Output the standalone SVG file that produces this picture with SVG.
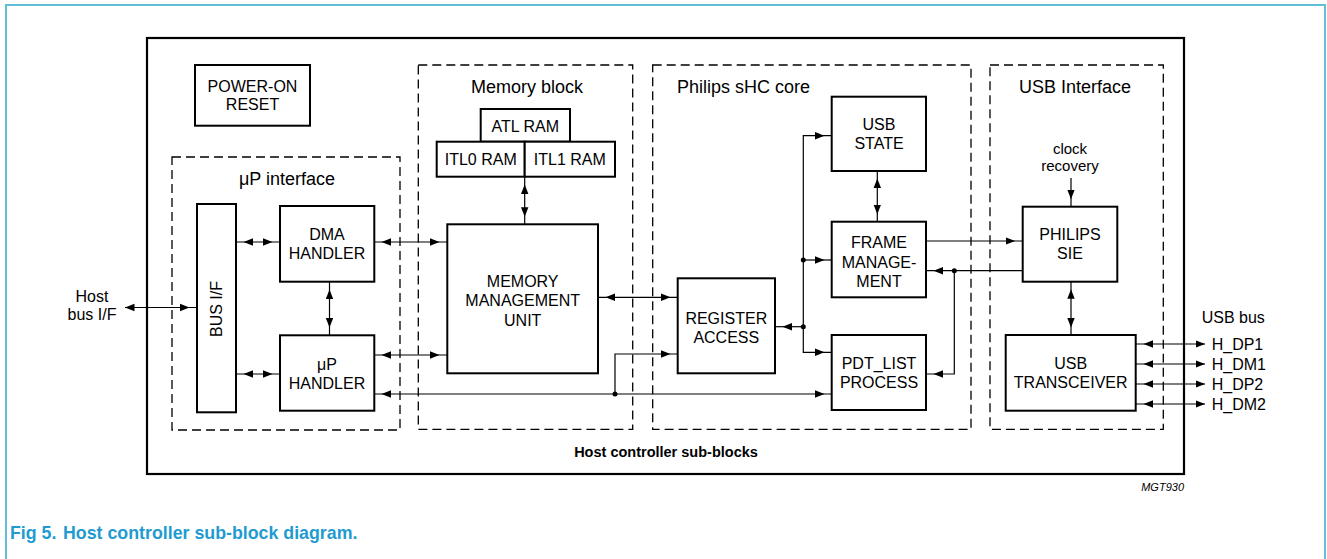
<svg xmlns="http://www.w3.org/2000/svg" width="1327" height="559" viewBox="0 0 1327 559">
<style>
.box{fill:#fff;stroke:#000;stroke-width:2}
.grp{fill:none;stroke:#000;stroke-width:1.3;stroke-dasharray:9 5}
.ln{fill:none;stroke:#000;stroke-width:1.2}
.t{font-family:"Liberation Sans",Arial,sans-serif;font-size:16px;fill:#000;text-anchor:middle}
.h{font-family:"Liberation Sans",Arial,sans-serif;font-size:18px;fill:#000}
.dot{fill:#000}
.cap{font-family:"Liberation Sans",Arial,sans-serif;font-size:17.8px;font-weight:bold;fill:#1f9bd0}
</style>
<defs>
<marker id="a" markerUnits="userSpaceOnUse" markerWidth="20" markerHeight="10" viewBox="0 0 20 10" refX="17" refY="5" orient="auto-start-reverse"><path d="M0,1.3 L9.5,5 L0,8.7 z" fill="#000"/></marker>
<marker id="e" markerUnits="userSpaceOnUse" markerWidth="20" markerHeight="10" viewBox="0 0 20 10" refX="9.5" refY="5" orient="auto-start-reverse"><path d="M0,1.3 L9.5,5 L0,8.7 z" fill="#000"/></marker>
</defs>
<rect width="1327" height="559" fill="#fff"/>
<path d="M6,559 V5 H1325 V559" fill="none" stroke="#62bfd8" stroke-width="2"/>
<rect x="147" y="38" width="1037" height="436" fill="none" stroke="#000" stroke-width="2.2"/>

<g id="grp-up"><rect class="grp" x="172" y="157" width="228" height="273"/><text class="h" x="287" y="185" text-anchor="middle">μP interface</text></g>
<g id="grp-mem"><rect class="grp" x="418.3" y="65" width="214.4" height="364.3"/><text class="h" x="527" y="93" text-anchor="middle">Memory block</text></g>
<g id="grp-core"><rect class="grp" x="652.7" y="65" width="318.3" height="364.3"/><text class="h" x="677" y="93">Philips sHC core</text></g>
<g id="grp-usb"><rect class="grp" x="990" y="65" width="173.3" height="364.3"/><text class="h" x="1075" y="93" text-anchor="middle">USB Interface</text></g>

<g id="connectors">
<line class="ln" x1="125" y1="307.5" x2="197" y2="307.5" marker-start="url(#e)" marker-end="url(#a)"/>
<line class="ln" x1="236" y1="242" x2="280" y2="242" marker-start="url(#a)" marker-end="url(#a)"/>
<line class="ln" x1="236" y1="374" x2="280" y2="374" marker-start="url(#a)" marker-end="url(#a)"/>
<line class="ln" x1="329.5" y1="282" x2="329.5" y2="335" marker-start="url(#a)" marker-end="url(#a)"/>
<line class="ln" x1="374" y1="242" x2="447" y2="242" marker-start="url(#a)" marker-end="url(#a)"/>
<line class="ln" x1="374" y1="355" x2="447" y2="355" marker-start="url(#a)" marker-end="url(#a)"/>
<line class="ln" x1="374" y1="394" x2="832" y2="394" marker-start="url(#a)" marker-end="url(#a)"/>
<path class="ln" d="M615,394 V354 H678" marker-end="url(#a)"/>
<line class="ln" x1="524.7" y1="177" x2="524.7" y2="224.3" marker-start="url(#a)" marker-end="url(#a)"/>
<line class="ln" x1="598" y1="297.3" x2="678" y2="297.3" marker-start="url(#a)" marker-end="url(#a)"/>
<path class="ln" d="M832,135.7 H803.3 V352.3 H832" marker-start="url(#a)" marker-end="url(#a)"/>
<path class="ln" d="M803.3,260 H832" marker-end="url(#a)"/>
<path class="ln" d="M803.3,326.7 H775" marker-end="url(#a)"/>
<line class="ln" x1="877.3" y1="171" x2="877.3" y2="221.7" marker-start="url(#a)" marker-end="url(#a)"/>
<path class="ln" d="M926,241 H1022.7" marker-end="url(#a)"/>
<path class="ln" d="M1022.7,270.7 H926" marker-end="url(#a)"/>
<path class="ln" d="M954.3,270.7 V374 H926" marker-end="url(#a)"/>
<path class="ln" d="M1071,178 V206.7" marker-end="url(#a)"/>
<line class="ln" x1="1071" y1="281.7" x2="1071" y2="335" marker-start="url(#a)" marker-end="url(#a)"/>
<line class="ln" x1="1136" y1="344" x2="1205" y2="344" marker-start="url(#a)" marker-end="url(#e)"/>
<line class="ln" x1="1136" y1="364" x2="1205" y2="364" marker-start="url(#a)" marker-end="url(#e)"/>
<line class="ln" x1="1136" y1="384" x2="1205" y2="384" marker-start="url(#a)" marker-end="url(#e)"/>
<line class="ln" x1="1136" y1="404" x2="1205" y2="404" marker-start="url(#a)" marker-end="url(#e)"/>
<circle class="dot" cx="615" cy="394" r="2.5"/>
<circle class="dot" cx="803.3" cy="260" r="2.5"/>
<circle class="dot" cx="803.3" cy="326.7" r="2.5"/>
<circle class="dot" cx="954.3" cy="270.7" r="2.5"/>
</g>

<g id="por"><rect class="box" x="195" y="65" width="115" height="60.7"/><text class="t" x="252.5" y="92">POWER-ON</text><text class="t" x="252.5" y="110">RESET</text></g>
<g id="busif"><rect class="box" x="197" y="204" width="39" height="208.3"/><text class="t" transform="translate(222,309) rotate(-90)">BUS I/F</text></g>
<g id="dma"><rect class="box" x="280" y="206" width="94.3" height="75.7"/><text class="t" x="327" y="240">DMA</text><text class="t" x="327" y="259">HANDLER</text></g>
<g id="uph"><rect class="box" x="280" y="335.3" width="94.3" height="75.4"/><text class="t" x="327" y="370">μP</text><text class="t" x="327" y="388.5">HANDLER</text></g>
<g id="atl"><rect class="box" x="480.7" y="109" width="89.3" height="32.7"/><text class="t" x="525.3" y="131.5">ATL RAM</text></g>
<g id="itl0"><rect class="box" x="436.7" y="141.7" width="88" height="35"/><text class="t" x="480.7" y="165">ITL0 RAM</text></g>
<g id="itl1"><rect class="box" x="524.7" y="141.7" width="90.3" height="35"/><text class="t" x="569.8" y="165">ITL1 RAM</text></g>
<g id="mmu"><rect class="box" x="447.3" y="224.3" width="150.7" height="149"/><text class="t" x="522.7" y="286.5">MEMORY</text><text class="t" x="522.7" y="306">MANAGEMENT</text><text class="t" x="522.7" y="325.5">UNIT</text></g>
<g id="reg"><rect class="box" x="677.7" y="278.3" width="97.3" height="95"/><text class="t" x="726.3" y="324">REGISTER</text><text class="t" x="726.3" y="342.5">ACCESS</text></g>
<g id="usbstate"><rect class="box" x="831.7" y="96.7" width="94.3" height="74.3"/><text class="t" x="879" y="130">USB</text><text class="t" x="879" y="149">STATE</text></g>
<g id="frame"><rect class="box" x="831.7" y="221.7" width="94.3" height="75.6"/><text class="t" x="879" y="247.5">FRAME</text><text class="t" x="879" y="267.5">MANAGE-</text><text class="t" x="879" y="286.5">MENT</text></g>
<g id="pdt"><rect class="box" x="831.7" y="335" width="94.3" height="75"/><text class="t" x="879" y="369">PDT_LIST</text><text class="t" x="879" y="387.5">PROCESS</text></g>
<g id="sie"><rect class="box" x="1022.7" y="206.7" width="94.6" height="75"/><text class="t" x="1070" y="240">PHILIPS</text><text class="t" x="1070" y="259">SIE</text></g>
<g id="trx"><rect class="box" x="1005.7" y="335" width="130" height="75.7"/><text class="t" x="1070.7" y="369">USB</text><text class="t" x="1070.7" y="388">TRANSCEIVER</text></g>

<g id="labels">
<text class="t" x="92" y="302">Host</text><text class="t" x="92" y="320">bus I/F</text>
<text class="t" x="1070" y="154" style="font-size:15px">clock</text><text class="t" x="1070" y="170.5" style="font-size:15px">recovery</text>
<text class="t" x="1201.7" y="323.3" style="text-anchor:start">USB bus</text>
<text class="t" x="1211.7" y="349.5" style="text-anchor:start">H_DP1</text>
<text class="t" x="1211.7" y="369.5" style="text-anchor:start">H_DM1</text>
<text class="t" x="1211.7" y="389.5" style="text-anchor:start">H_DP2</text>
<text class="t" x="1211.7" y="409.5" style="text-anchor:start">H_DM2</text>
<text class="t" x="666" y="457" style="font-size:14.5px;font-weight:bold">Host controller sub-blocks</text>
<text x="1184" y="491" style="font-family:'Liberation Sans',Arial,sans-serif;font-size:11px;font-style:italic;text-anchor:end">MGT930</text>
<text class="cap" x="10" y="539">Fig 5.</text>
<text class="cap" x="63" y="539">Host controller sub-block diagram.</text>
</g>
</svg>
